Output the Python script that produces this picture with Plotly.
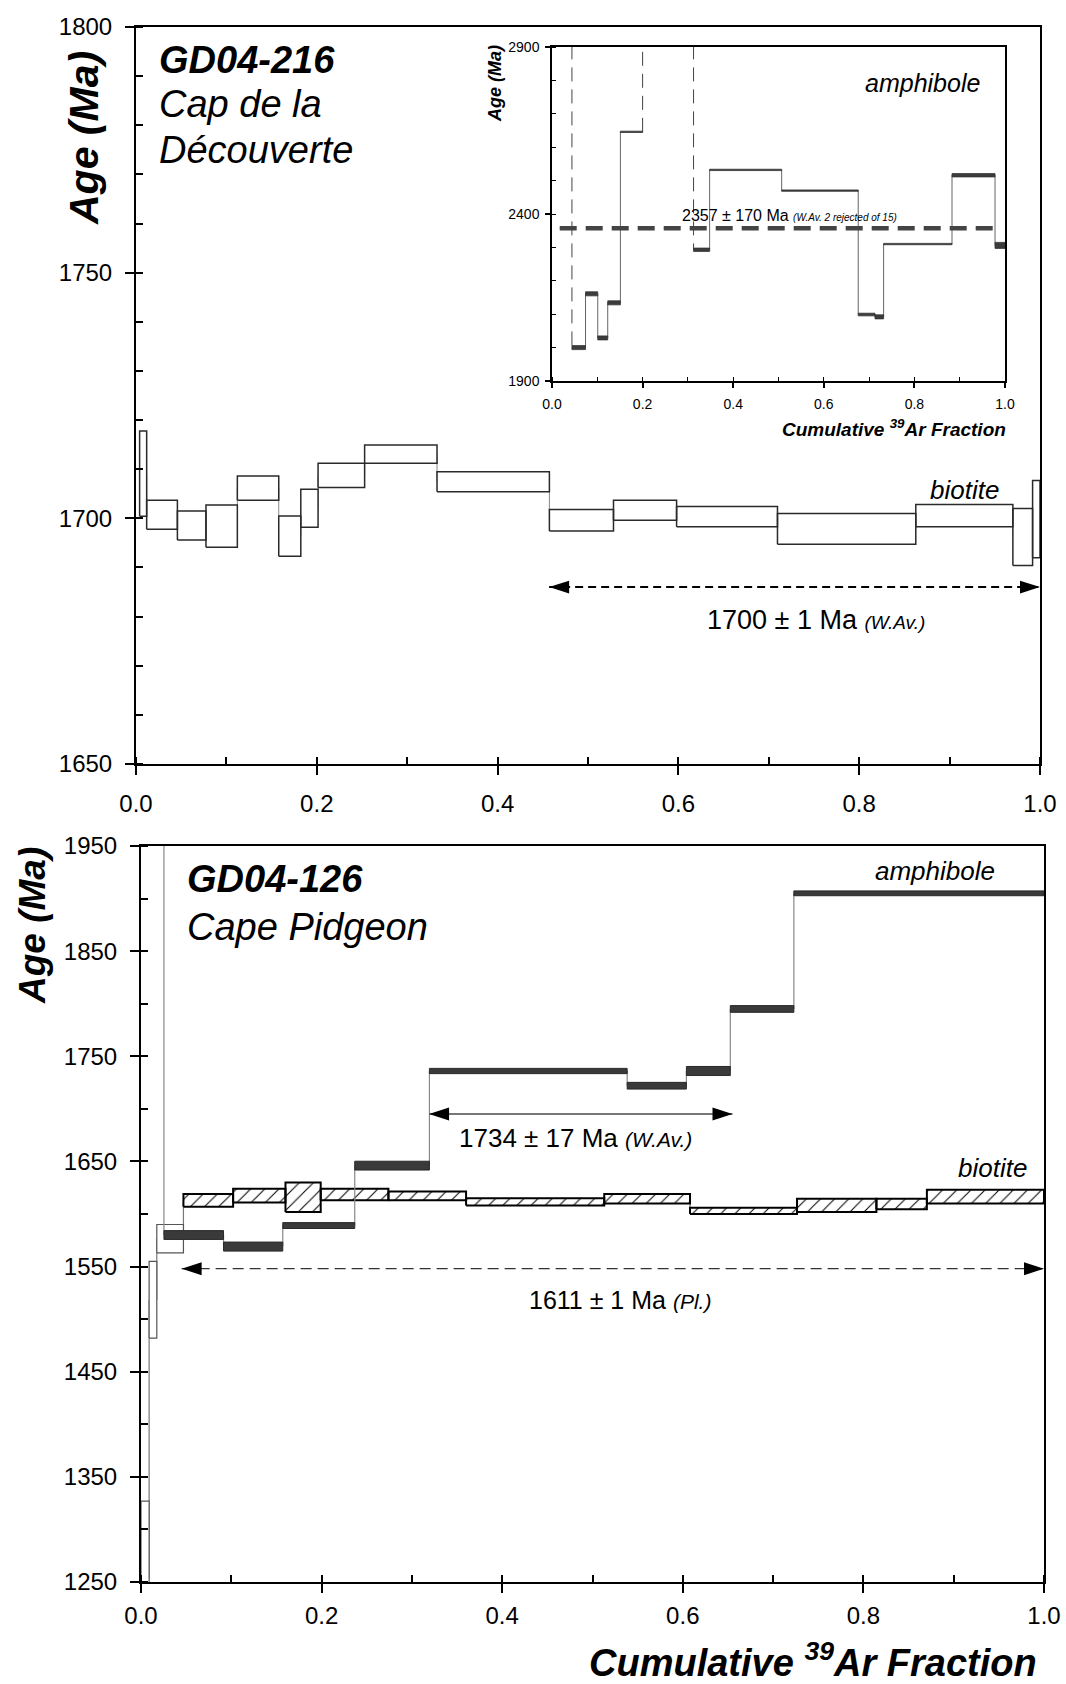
import plotly.graph_objects as go

# ---------------- data ----------------
# GD04-216 biotite: cumulative 39Ar step edges and age box limits (Ma)
bt216_edges = [0.004, 0.0118, 0.0458, 0.0774, 0.1121, 0.1579, 0.1823, 0.2014, 0.2529,
               0.3330, 0.4573, 0.5282, 0.5980, 0.7096, 0.8626, 0.9700, 0.9918, 1.0]
bt216_lo = [1700.4, 1697.8, 1695.6, 1694.1, 1703.7, 1692.3, 1698.2, 1706.3, 1711.2,
            1705.4, 1697.4, 1699.6, 1698.3, 1694.7, 1698.3, 1690.4, 1692.0]
bt216_hi = [1717.8, 1703.7, 1701.5, 1702.7, 1708.6, 1700.5, 1705.9, 1711.2, 1714.9,
            1709.5, 1701.8, 1703.7, 1702.4, 1701.0, 1702.8, 1702.0, 1707.7]
bt216_wav_span = [0.457, 1.0]
bt216_wav_level = 1686

# GD04-216 amphibole (inset), off-scale steps flagged as rejected
amph216_edges = [0.0, 0.044, 0.074, 0.101, 0.123, 0.151, 0.200, 0.3125, 0.348, 0.507,
                 0.676, 0.713, 0.732, 0.883, 0.978, 1.0]
amph216_age = [3300, 2000, 2161, 2029, 2134, 2646, 3300, 2293, 2532, 2470,
               2099, 2092, 2310, 2516, 2306]
amph216_err = [10, 6, 6, 6, 6, 2, 10, 5, 2, 2, 4, 6, 2, 5, 9]
amph216_rejected = [True, False, False, False, False, False, True, False, False, False,
                    False, False, False, False, False]
amph216_wav = 2357
amph216_wav_span = [0.017, 0.978]

# GD04-126 amphibole
amph126_edges = [0.0, 0.0254, 0.0914, 0.157, 0.2367, 0.3194, 0.5384, 0.604, 0.6526, 0.723, 1.0]
amph126_age = [2300, 1580, 1569, 1589, 1646, 1736, 1722, 1736, 1795, 1905]
amph126_err = [5, 4.2, 4.3, 2.8, 4.2, 2.5, 3.2, 4.3, 3.2, 2.3]
amph126_wav_span = [0.319, 0.655]
amph126_wav_level = 1695

# GD04-126 biotite
bt126_edges = [0.0, 0.009, 0.0175, 0.047, 0.102, 0.160, 0.199, 0.274, 0.360, 0.513,
               0.608, 0.7265, 0.8144, 0.8703, 1.0]
bt126_lo = [1180, 1482, 1563, 1607, 1611, 1602, 1613, 1613, 1608, 1610, 1600, 1602, 1604.5, 1610]
bt126_hi = [1327, 1555, 1590, 1619, 1624, 1630, 1624, 1621.5, 1615, 1619, 1606, 1614.6, 1614.6, 1623]
bt126_plateau = [False, False, False] + [True] * 11
bt126_pl_span = [0.045, 1.0]
bt126_pl_level = 1548

# ---------------- helpers ----------------
W, H = 1066, 1684
FONT = "Liberation Sans, Arial, Helvetica, sans-serif"


def fx(px):
    return px / W


def fy(py):
    return 1 - py / H


def boxes(edges, lo, hi, keep=None):
    xs, ys = [], []
    for i in range(len(lo)):
        if keep is not None and not keep[i]:
            continue
        x0, x1 = edges[i], edges[i + 1]
        xs += [x0, x1, x1, x0, x0, None]
        ys += [lo[i], lo[i], hi[i], hi[i], lo[i], None]
    return xs, ys


def risers(edges, lo, hi, keep=None):
    xs, ys = [], []
    for i in range(1, len(lo)):
        if keep is not None and not keep(i):
            continue
        a = (lo[i - 1] + hi[i - 1]) / 2
        b = (lo[i] + hi[i]) / 2
        xs += [edges[i], edges[i], None]
        ys += [a, b, None]
    return xs, ys


fig = go.Figure()


def add(xs, ys, xa, ya, **kw):
    fig.add_trace(go.Scatter(x=xs, y=ys, xaxis=xa, yaxis=ya, mode="lines",
                             hoverinfo="skip", showlegend=False, **kw))


def double_arrow(span, level, xa, ya, line):
    add(span, [level] * 2, xa, ya, line=line)
    fig.add_trace(go.Scatter(
        x=span, y=[level] * 2, xaxis=xa, yaxis=ya, mode="markers",
        hoverinfo="skip", showlegend=False,
        marker=dict(symbol="arrow", size=21, angle=[-90, 90], color="black",
                    line=dict(width=0)),
    ))


annotations = []


def label(text, x, y, size, anchor="center", angle=0):
    annotations.append(dict(text=text, x=fx(x), y=fy(y), xref="paper", yref="paper",
                            xanchor=anchor, yanchor="middle", showarrow=False,
                            textangle=angle, font=dict(family=FONT, size=size, color="black")))


# ---------------- top panel: GD04-216 biotite ----------------
rx, ry = risers(bt216_edges, bt216_lo, bt216_hi)
add(rx, ry, "x", "y", line=dict(color="#888888", width=1))
bx, by = boxes(bt216_edges, bt216_lo, bt216_hi)
add(bx, by, "x", "y", fill="toself", fillcolor="white", line=dict(color="#2a2a2a", width=1.5))
double_arrow(bt216_wav_span, bt216_wav_level, "x", "y",
             dict(color="black", width=2, dash="8px,5px"))

# ---------------- inset: GD04-216 amphibole ----------------
a_lo = [a - e for a, e in zip(amph216_age, amph216_err)]
a_hi = [a + e for a, e in zip(amph216_age, amph216_err)]
rx, ry = risers(amph216_edges, a_lo, a_hi,
                keep=lambda i: not (amph216_rejected[i] or amph216_rejected[i - 1]))
add(rx, ry, "x2", "y2", line=dict(color="#666666", width=1))
rx, ry = risers(amph216_edges, a_lo, a_hi,
                keep=lambda i: amph216_rejected[i] or amph216_rejected[i - 1])
add(rx, ry, "x2", "y2", line=dict(color="#444444", width=1, dash="14px,8px"))
bx, by = boxes(amph216_edges, a_lo, a_hi)
add(bx, by, "x2", "y2", fill="toself", fillcolor="#3c3c3c", line=dict(color="#333333", width=0.8))
add(amph216_wav_span, [amph216_wav] * 2, "x2", "y2",
    line=dict(color="#444444", width=4.5, dash="17px,9px"))

# ---------------- bottom panel: GD04-126 ----------------
rx, ry = risers(bt126_edges, bt126_lo, bt126_hi)
add(rx, ry, "x3", "y3", line=dict(color="#777777", width=1.2))
bx, by = boxes(bt126_edges, bt126_lo, bt126_hi, keep=[not p for p in bt126_plateau])
add(bx, by, "x3", "y3", fill="toself", fillcolor="white", line=dict(color="#555555", width=1.2))
bx, by = boxes(bt126_edges, bt126_lo, bt126_hi, keep=bt126_plateau)
add(bx, by, "x3", "y3", fill="toself", fillcolor="white",
    fillpattern=dict(shape="/", fgcolor="black", bgcolor="white", size=10, solidity=0.1),
    line=dict(color="black", width=2))

m_lo = [a - e for a, e in zip(amph126_age, amph126_err)]
m_hi = [a + e for a, e in zip(amph126_age, amph126_err)]
rx, ry = risers(amph126_edges, m_lo, m_hi)
add(rx, ry, "x3", "y3", line=dict(color="#888888", width=1.2))
bx, by = boxes(amph126_edges, m_lo, m_hi)
add(bx, by, "x3", "y3", fill="toself", fillcolor="#3a3a3a", line=dict(color="#2a2a2a", width=1))

double_arrow(amph126_wav_span, amph126_wav_level, "x3", "y3", dict(color="#777777", width=2))
double_arrow(bt126_pl_span, bt126_pl_level, "x3", "y3",
             dict(color="#333333", width=1.3, dash="11px,6px"))

# ---------------- text ----------------
label("<b><i>GD04-216</i></b>", 157, 60, 38, anchor="left")
label("<i>Cap de la</i>", 157, 104, 38, anchor="left")
label("<i>Découverte</i>", 157, 150, 38, anchor="left")
label("<b><i>Age (Ma)</i></b>", 84, 138, 41, angle=-90)
label("<i>biotite</i>", 964, 490, 26)
label("1700 ± 1 Ma <span style='font-size:19px'><i>(W.Av.)</i></span>", 816, 620, 27)

label("<b><i>Age (Ma)</i></b>", 495, 84, 18, angle=-90)
label("<b><i>Cumulative <sup>39</sup>Ar Fraction</i></b>", 1008, 428, 19, anchor="right")
label("<i>amphibole</i>", 922, 83, 25)
label("2357 ± 170 Ma <span style='font-size:10px'><i>(W.Av. 2 rejected of 15)</i></span>",
      789, 215, 16)

label("<b><i>GD04-126</i></b>", 185, 879, 38, anchor="left")
label("<i>Cape Pidgeon</i>", 185, 927, 38, anchor="left")
label("<b><i>Age (Ma)</i></b>", 32, 926, 37, angle=-90)
label("<i>amphibole</i>", 935, 871, 26)
label("<i>biotite</i>", 992, 1168, 26)
label("1734 ± 17 Ma <span style='font-size:21px'><i>(W.Av.)</i></span>", 575, 1138, 26)
label("1611 ± 1 Ma <span style='font-size:21px'><i>(Pl.)</i></span>", 620, 1300, 25)
label("<b><i>Cumulative <sup>39</sup>Ar Fraction</i></b>", 1039, 1660, 38, anchor="right")

# ---------------- axes ----------------
tick_font = dict(family=FONT, size=24, color="black")


def main_axis(**kw):
    d = dict(showline=True, linecolor="black", linewidth=2, mirror=True, showgrid=False,
             zeroline=False, ticks="outside", ticklen=9, tickwidth=2, tickcolor="black",
             tickfont=tick_font, fixedrange=True, automargin=False)
    d.update(kw)
    return d


def cross_axis(**kw):
    d = dict(showline=False, showgrid=False, zeroline=False, ticks="inside", ticklen=8,
             tickwidth=2, tickcolor="black", showticklabels=False, fixedrange=True,
             automargin=False)
    d.update(kw)
    return d


minor_x = dict(dtick=0.1, ticks="inside", ticklen=7, tickwidth=1.5, tickcolor="black")

fig.update_layout(
    template="none",
    width=W, height=H,
    margin=dict(l=0, r=0, t=0, b=0),
    paper_bgcolor="white", plot_bgcolor="white",
    showlegend=False,
    xaxis=main_axis(domain=[fx(136), fx(1040)], anchor="y", range=[0, 1], tick0=0, dtick=0.2,
                    tickformat=".1f", minor=minor_x, ticklabelstandoff=8),
    yaxis=main_axis(domain=[fy(764), fy(27)], anchor="x", range=[1650, 1800], tick0=1650,
                    dtick=50, minor=dict(dtick=10, ticks="inside", ticklen=7, tickwidth=1.5,
                                         tickcolor="black"), ticklabelstandoff=8),
    xaxis2=main_axis(domain=[fx(552), fx(1005)], anchor="y2", range=[0, 1], tick0=0, dtick=0.2,
                     tickformat=".1f", linewidth=1.5, ticklen=5, tickwidth=1.5,
                     tickfont=dict(family=FONT, size=14, color="black"),
                     minor=dict(dtick=0.1, ticks="inside", ticklen=4, tickwidth=1,
                                tickcolor="black"), ticklabelstandoff=4),
    yaxis2=main_axis(domain=[fy(381), fy(47)], anchor="x2", range=[1900, 2900], tick0=1900,
                     dtick=500, linewidth=1.5, ticklen=5, tickwidth=1.5,
                     tickfont=dict(family=FONT, size=14, color="black"),
                     minor=dict(dtick=100, ticks="inside", ticklen=4, tickwidth=1,
                                tickcolor="black"), ticklabelstandoff=3),
    xaxis3=main_axis(domain=[fx(141), fx(1044)], anchor="y3", range=[0, 1], tick0=0, dtick=0.2,
                     tickformat=".1f", minor=minor_x, ticklabelstandoff=2),
    yaxis3=main_axis(domain=[fy(1582), fy(846)], anchor="x3", range=[1250, 1950], tick0=1250,
                     dtick=100, minor=dict(dtick=50, ticks="inside", ticklen=7, tickwidth=1.5,
                                           tickcolor="black"), ticklabelstandoff=8),
    xaxis4=cross_axis(overlaying="x", anchor="y", range=[0, 1], tick0=0, dtick=0.2),
    yaxis4=cross_axis(overlaying="y", anchor="x", side="left", range=[1650, 1800], tick0=1650,
                      dtick=50),
    xaxis5=cross_axis(overlaying="x3", anchor="y3", range=[0, 1], tick0=0, dtick=0.2),
    yaxis5=cross_axis(overlaying="y3", anchor="x3", side="left", range=[1250, 1950], tick0=1250,
                      dtick=100),
    annotations=annotations,
)

fig.write_html("out.html", config={"displayModeBar": False},
               post_script="document.body.style.margin='0px';"
                           "document.body.style.overflow='hidden';")
